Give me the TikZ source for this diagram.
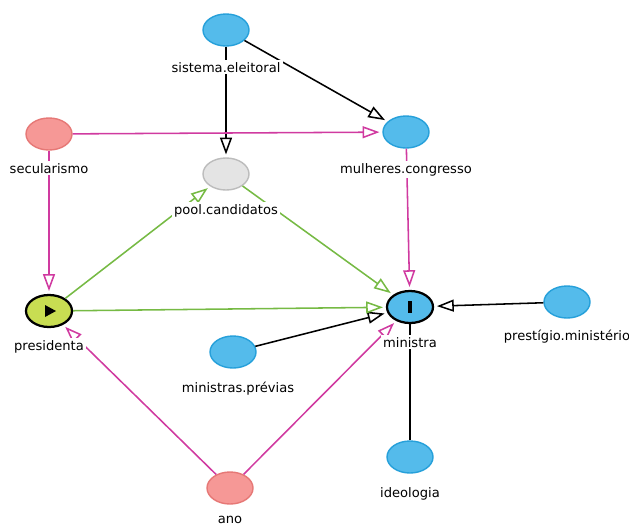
\documentclass[tikz,border=0pt]{standalone}
\usepackage{fontspec}
\setmainfont{DejaVu Sans}
\usetikzlibrary{arrows.meta,shapes.geometric}
\definecolor{ancfill}{RGB}{84,187,235}
\definecolor{ancline}{RGB}{38,160,218}
\definecolor{confill}{RGB}{246,152,150}
\definecolor{conline}{RGB}{230,120,118}
\definecolor{latfill}{RGB}{228,228,228}
\definecolor{latline}{RGB}{188,188,188}
\definecolor{expfill}{RGB}{200,221,82}
\definecolor{biasarc}{RGB}{208,58,160}
\definecolor{causarc}{RGB}{118,186,68}
\tikzstyle{var} = [ellipse, minimum width=1.15cm, minimum height=0.8cm, inner sep=0pt, line width=1pt]
\tikzstyle{anc} = [var, fill=ancfill, draw=ancline]
\tikzstyle{conf} = [var, fill=confill, draw=conline]
\tikzstyle{lat} = [var, fill=latfill, draw=latline]
\tikzstyle{focus} = [var, draw=black, line width=1.6pt]
\tikzstyle{lbl} = [fill=white, inner sep=1.5pt, anchor=base, font=\fontsize{9.3}{11}\selectfont]
\tikzstyle{arrowblk} = [line width=1.1pt, -{Triangle[open, length=12pt, width=8.5pt]}, shorten >=2pt]
\tikzstyle{arrowbias} = [arrowblk, draw=biasarc]
\tikzstyle{arrowcausal} = [arrowblk, draw=causarc]

\begin{document}
\begin{tikzpicture}[x=0.025cm, y=-0.025cm]
\useasboundingbox (0,0) rectangle (629,527);
\clip (0,0) rectangle (629,527);
% variables
\node[anc] (sistema) at (226,30) {};
\node[conf] (secularismo) at (49,134) {};
\node[lat] (pool) at (226,174) {};
\node[anc] (mulheres) at (406,132) {};
\node[focus, fill=expfill] (presidenta) at (49,311) {};
\node[focus, fill=ancfill] (ministra) at (410,307) {};
\node[anc] (prestigio) at (567,302) {};
\node[anc] (previas) at (233,352) {};
\node[anc] (ideologia) at (410,457) {};
\node[conf] (ano) at (230,488) {};
% exposure and outcome marks
\fill (presidenta.center) ++(-4,-6) -- ++(11,6) -- ++(-11,6) -- cycle;
\fill (ministra.center) ++(-2,-6) rectangle ++(4,12);
% arcs
\draw[arrowblk] (sistema) -- (pool);
\draw[arrowblk] (sistema) -- (mulheres);
\draw[arrowblk] (prestigio) -- (ministra);
\draw[arrowblk] (previas) -- (ministra);
\draw[line width=1.1pt] (ideologia) -- (ministra);
\draw[arrowbias] (secularismo) -- (mulheres);
\draw[arrowbias] (secularismo) -- (presidenta);
\draw[arrowbias] (mulheres) -- (ministra);
\draw[arrowbias] (ano) -- (presidenta);
\draw[arrowbias] (ano) -- (ministra);
\draw[arrowcausal] (presidenta) -- (pool);
\draw[arrowcausal] (presidenta) -- (ministra);
\draw[arrowcausal] (pool) -- (ministra);
% labels
\node[lbl] (sistema-l) at (226,72) {sistema.eleitoral};
\node[lbl] (secularismo-l) at (49,173) {secularismo};
\node[lbl] (pool-l) at (226,214) {pool.candidatos};
\node[lbl] (mulheres-l) at (406,173) {mulheres.congresso};
\node[lbl] (presidenta-l) at (49,350) {presidenta};
\node[lbl] (ministra-l) at (410,347) {ministra};
\node[lbl] (prestigio-l) at (567,340) {prestígio.ministério};
\node[lbl] (previas-l) at (238,392) {ministras.prévias};
\node[lbl] (ideologia-l) at (410,497) {ideologia};
\node[lbl] (ano-l) at (230,523) {ano};
\end{tikzpicture}
\end{document}
